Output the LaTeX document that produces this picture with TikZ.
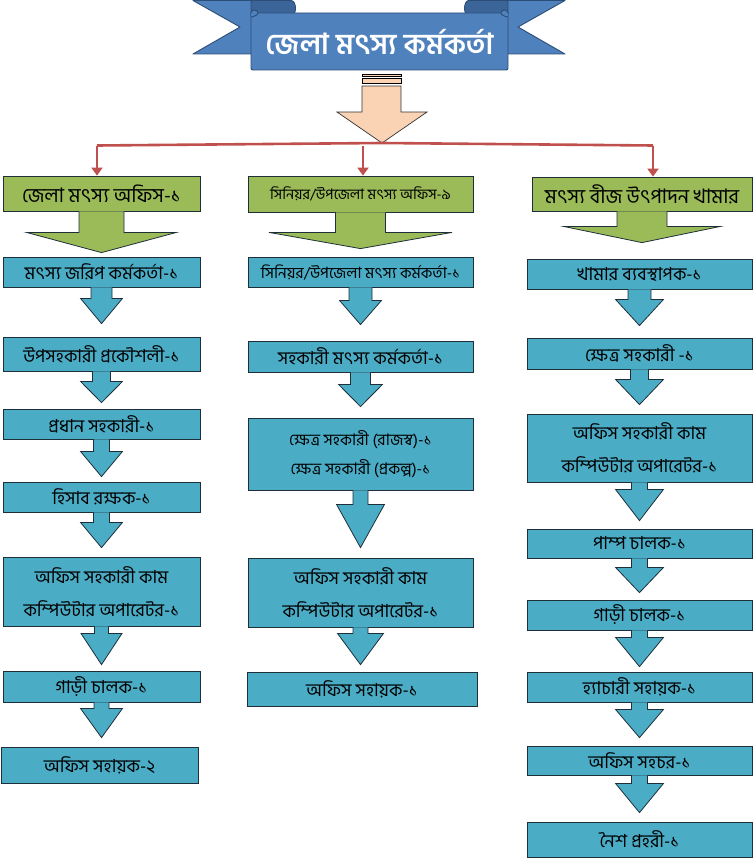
\documentclass[tikz,border=0pt]{standalone}
\usepackage{fontspec}
\newfontfamily\bn[Script=Bengali]{Hind Siliguri}
\usetikzlibrary{calc,arrows.meta}
\definecolor{boxblue}{HTML}{4BACC6}
\definecolor{boxgreen}{HTML}{9BBB59}
\definecolor{boxline}{HTML}{1E2F3A}
\definecolor{bannerblue}{HTML}{4F81BD}
\definecolor{bannerdark}{HTML}{3B6599}
\definecolor{bannerline}{HTML}{2C4D75}
\definecolor{peach}{HTML}{FAD3B4}
\definecolor{redline}{HTML}{C0504D}
\newcommand\fatarr[7]{%
  \filldraw[#7] let \p1=(#1.south), \p2=(#2.north) in
  (\x1-#3,\y1) -- (\x1-#3,\y1-#5) -- (\x1-#4,\y1-#5) -- (\x1,\y2+#6)
  -- (\x1+#4,\y1-#5) -- (\x1+#3,\y1-#5) -- (\x1+#3,\y1);}
\begin{document}
\begin{tikzpicture}[x=1pt,y=-1pt,
  bbox/.style={draw=boxline, line width=0.8pt, fill=boxblue, inner sep=0pt,
    align=center, font=\bn\fontsize{18}{33}\selectfont},
  gbox/.style={bbox, fill=boxgreen, font=\bn\fontsize{20}{24}\selectfont},
  barrow/.style={fill=boxblue, draw=boxline, line width=0.8pt, line join=miter},
  garrow/.style={fill=boxgreen, draw=boxline, line width=0.8pt},
  redconn/.style={draw=redline, line width=2.6pt},
  reddrop/.style={redconn, -{Triangle[length=8pt,width=11pt]}},
  ribbon/.style={fill=bannerblue, draw=bannerline, line width=0.9pt, line join=round}]
\useasboundingbox (0,0) rectangle (755,859);
% ---- banner ----
\filldraw[ribbon] (193,0.5) -- (290,0.5) -- (290,54) -- (193,54) -- (240,27) -- cycle;
\filldraw[ribbon] (565,0.5) -- (468,0.5) -- (468,54) -- (565,54) -- (518,27) -- cycle;
\filldraw[ribbon, fill=bannerdark] (251,16) -- (251,4) .. controls (251,0.5) .. (256,0.5)
  -- (291,0.5) .. controls (297,0.5) and (297,16) .. (291,16) -- cycle;
\filldraw[ribbon, fill=bannerdark] (508,16) -- (508,4) .. controls (508,0.5) .. (503,0.5)
  -- (469,0.5) .. controls (463,0.5) and (463,16) .. (469,16) -- cycle;
\filldraw[ribbon] (251,13) -- (508,13) -- (508,66) .. controls (508,70) .. (504,70)
  -- (255,70) .. controls (251,70) .. (251,66) -- cycle;
\filldraw[ribbon] (251,13) .. controls (251,9) and (258,9) .. (258,13) .. controls (258,16) and (251,17) .. (251,17);
\filldraw[ribbon] (508,13) .. controls (508,9) and (501,9) .. (501,13) .. controls (501,16) and (508,17) .. (508,17);
\node[text=white, font=\bn\bfseries\fontsize{29}{34}\selectfont] (title) at (379.5,42) {জেলা মৎস্য কর্মকর্তা};
% ---- peach arrow ----
\filldraw[fill=peach, draw=black, line width=0.7pt] (362,74) rectangle (401,76);
\filldraw[fill=peach, draw=black, line width=0.7pt] (362,78.5) rectangle (401,83);
\filldraw[fill=peach, draw=black!80, line width=0.7pt] (362,86) -- (401,86) -- (401,112)
  -- (427,112) -- (382,143) -- (337,112) -- (362,112) -- cycle;
\coordinate (hub) at (382,143);
% ---- boxes: left column ----
\node[gbox, minimum width=197pt, minimum height=35pt] (L0) at (101.5,193.5) {জেলা মৎস্য অফিস-১};
\node[bbox, minimum width=197pt, minimum height=30pt] (L1) at (101.5,272) {মৎস্য জরিপ কর্মকর্তা-১};
\node[bbox, minimum width=197pt, minimum height=34pt] (L2) at (101.5,354) {উপসহকারী প্রকৌশলী-১};
\node[bbox, minimum width=197pt, minimum height=30pt] (L3) at (101.5,424) {প্রধান সহকারী-১};
\node[bbox, minimum width=197pt, minimum height=30pt] (L4) at (101.5,497) {হিসাব রক্ষক-১};
\node[bbox, minimum width=197pt, minimum height=69pt] (L5) at (101.5,591.5) {অফিস সহকারী কাম\\কম্পিউটার অপারেটর-১};
\node[bbox, minimum width=197pt, minimum height=31pt] (L6) at (101.5,686.5) {গাড়ী চালক-১};
\node[bbox, minimum width=197pt, minimum height=36pt] (L7) at (99.5,765) {অফিস সহায়ক-২};
% ---- middle column ----
\node[gbox, minimum width=225pt, minimum height=36pt, font=\bn\fontsize{14.5}{18}\selectfont] (M0) at (360.5,194) {সিনিয়র/উপজেলা মৎস্য অফিস-৯};
\node[bbox, minimum width=225pt, minimum height=30pt, font=\bn\fontsize{15.5}{18}\selectfont] (M1) at (360.5,272) {সিনিয়র/উপজেলা মৎস্য কর্মকর্তা-১};
\node[bbox, minimum width=225pt, minimum height=31pt] (M2) at (360.5,356.5) {সহকারী মৎস্য কর্মকর্তা-১};
\node[bbox, minimum width=225pt, minimum height=72pt, font=\bn\fontsize{16}{29}\selectfont] (M3) at (360.5,454) {ক্ষেত্র সহকারী (রাজস্ব)-১\\ক্ষেত্র সহকারী (প্রকল্প)-১};
\node[bbox, minimum width=225pt, minimum height=69pt] (M4) at (360.5,592.5) {অফিস সহকারী কাম\\কম্পিউটার অপারেটর-১};
\node[bbox, minimum width=230pt, minimum height=34pt] (M5) at (362,689) {অফিস সহায়ক-১};
% ---- right column ----
\node[gbox, minimum width=220pt, minimum height=34pt] (R0) at (642,194) {মৎস্য বীজ উৎপাদন খামার};
\node[bbox, minimum width=225pt, minimum height=30pt] (R1) at (639.5,274) {খামার ব্যবস্থাপক-১};
\node[bbox, minimum width=225pt, minimum height=31pt] (R2) at (639.5,353.5) {ক্ষেত্র সহকারী -১};
\node[bbox, minimum width=225pt, minimum height=68pt] (R3) at (639.5,448) {অফিস সহকারী কাম\\কম্পিউটার অপারেটর-১};
\node[bbox, minimum width=225pt, minimum height=29pt] (R4) at (639.5,543.5) {পাম্প চালক-১};
\node[bbox, minimum width=225pt, minimum height=30pt] (R5) at (639.5,615) {গাড়ী চালক-১};
\node[bbox, minimum width=225pt, minimum height=30pt] (R6) at (639.5,687) {হ্যাচারী সহায়ক-১};
\node[bbox, minimum width=225pt, minimum height=29pt] (R7) at (639.5,760.5) {অফিস সহচর-১};
\node[bbox, minimum width=225pt, minimum height=35pt] (R8) at (639.5,839.5) {নৈশ প্রহরী-১};
% ---- red connectors ----
\coordinate (jL) at (97,145.5);
\coordinate (jM) at (363,145.5);
\coordinate (jR) at (653,145.5);
\draw[redconn] (jL) -- (hub) -- (jR);
\draw[reddrop] (jL) -- (jL |- L0.north);
\draw[reddrop] (jM) -- (jM |- M0.north);
\draw[reddrop] (jR) -- (jR |- R0.north);
% ---- green arrows ----
\fatarr{L0}{L1}{22.5}{75}{21}{4}{garrow}
\fatarr{M0}{M1}{25}{91.5}{20}{8}{garrow}
\fatarr{R0}{R1}{25}{78.5}{15}{16}{garrow}
% ---- blue arrows ----
\fatarr{L1}{L2}{10.5}{21}{11}{13}{barrow}
\fatarr{L2}{L3}{9}{21}{10}{6}{barrow}
\fatarr{L3}{L4}{8}{21}{12}{5}{barrow}
\fatarr{L4}{L5}{8}{21}{10}{9}{barrow}
\fatarr{L5}{L6}{7}{20.5}{7}{6}{barrow}
\fatarr{L6}{L7}{7.5}{21}{6}{9}{barrow}
\fatarr{M1}{M2}{11.5}{21}{13}{16}{barrow}
\fatarr{M2}{M3}{10}{22}{12}{11}{barrow}
\fatarr{M3}{M4}{7.5}{24}{14}{10}{barrow}
\fatarr{M4}{M5}{7.5}{23}{6}{7}{barrow}
\fatarr{R1}{R2}{11.5}{24}{10}{12}{barrow}
\fatarr{R2}{R3}{9}{24}{10}{9}{barrow}
\fatarr{R3}{R4}{8}{24}{7}{8}{barrow}
\fatarr{R4}{R5}{8}{24}{9}{7}{barrow}
\fatarr{R5}{R6}{8}{24}{7}{5}{barrow}
\fatarr{R6}{R7}{8}{24}{7}{8}{barrow}
\fatarr{R7}{R8}{8}{24}{8}{9}{barrow}
\end{tikzpicture}
\end{document}
